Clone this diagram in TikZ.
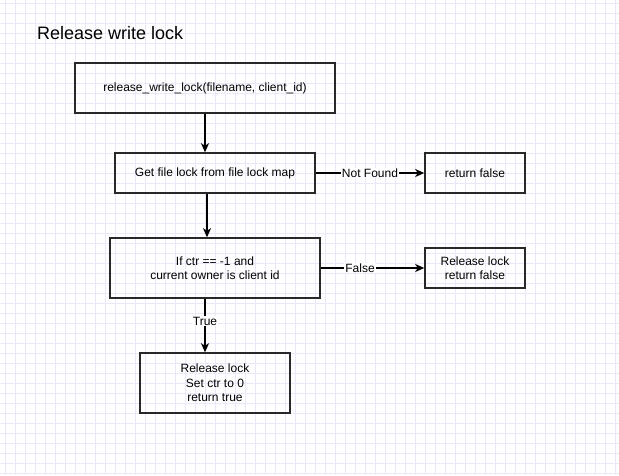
\documentclass[tikz,border=0pt]{standalone}
\usepackage{fontspec}
\setmainfont{Liberation Sans}
\usetikzlibrary{arrows.meta}
\definecolor{gridcol}{RGB}{234,232,248}
\definecolor{boxcol}{RGB}{40,40,40}
\begin{document}
\begin{tikzpicture}[x=1pt, y=-1pt,
    box/.style={rectangle, draw=boxcol, line width=1.5pt, align=center, inner sep=0pt,
      font=\fontsize{12}{14.5}\selectfont},
    flow/.style={-{Stealth[length=9pt, width=8pt, inset=2.5pt]}, line width=1.6pt},
    lbl/.style={fill=white, inner sep=1pt, font=\fontsize{12}{14}\selectfont}]
  % Background grid
  \useasboundingbox (0,0) rectangle (619,475);
  \foreach \x in {5,15,...,615} \draw[gridcol, line width=0.6pt] (\x,0) -- (\x,475);
  \foreach \y in {3,13,...,473} \draw[gridcol, line width=0.6pt] (0,\y) -- (619,\y);
  % Header
  \node (title) [anchor=west, inner sep=0pt, font=\fontsize{18}{20}\selectfont] at (37, 33) {Release write lock};
  % Nodes
  \node (rwl) [box, minimum width=260pt, minimum height=50pt] at (205, 88) {release\_write\_lock(filename, client\_id)};
  \node (get) [box, minimum width=200pt, minimum height=40pt] at (215, 173) {Get file lock from file lock map};
  \node (check) [box, minimum width=210pt, minimum height=60pt] at (215, 268) {If ctr == -1 and\\current owner is client id};
  \node (notfound) [box, minimum width=100pt, minimum height=40pt] at (475, 173) {return false};
  \node (relfalse) [box, minimum width=100pt, minimum height=40pt] at (475, 268) {Release lock\\return false};
  \node (reltrue) [box, minimum width=150pt, minimum height=60pt] at (215, 383) {Release lock\\Set ctr to 0\\return true};
  % Arrows
  \draw[flow] (rwl.south) -- (rwl.south |- get.north);
  \draw[flow] ([xshift=-8pt]get.south) -- ([xshift=-8pt]get.south |- check.north);
  \draw[flow] (get) -- (notfound) node[lbl, pos=0.5] {Not Found};
  \draw[flow] (check) -- (relfalse) node[lbl, pos=0.38] {False};
  \draw[flow] ([xshift=-10pt]check.south) -- ([xshift=-10pt]check.south |- reltrue.north) node[lbl, pos=0.42] {True};
\end{tikzpicture}
\end{document}
